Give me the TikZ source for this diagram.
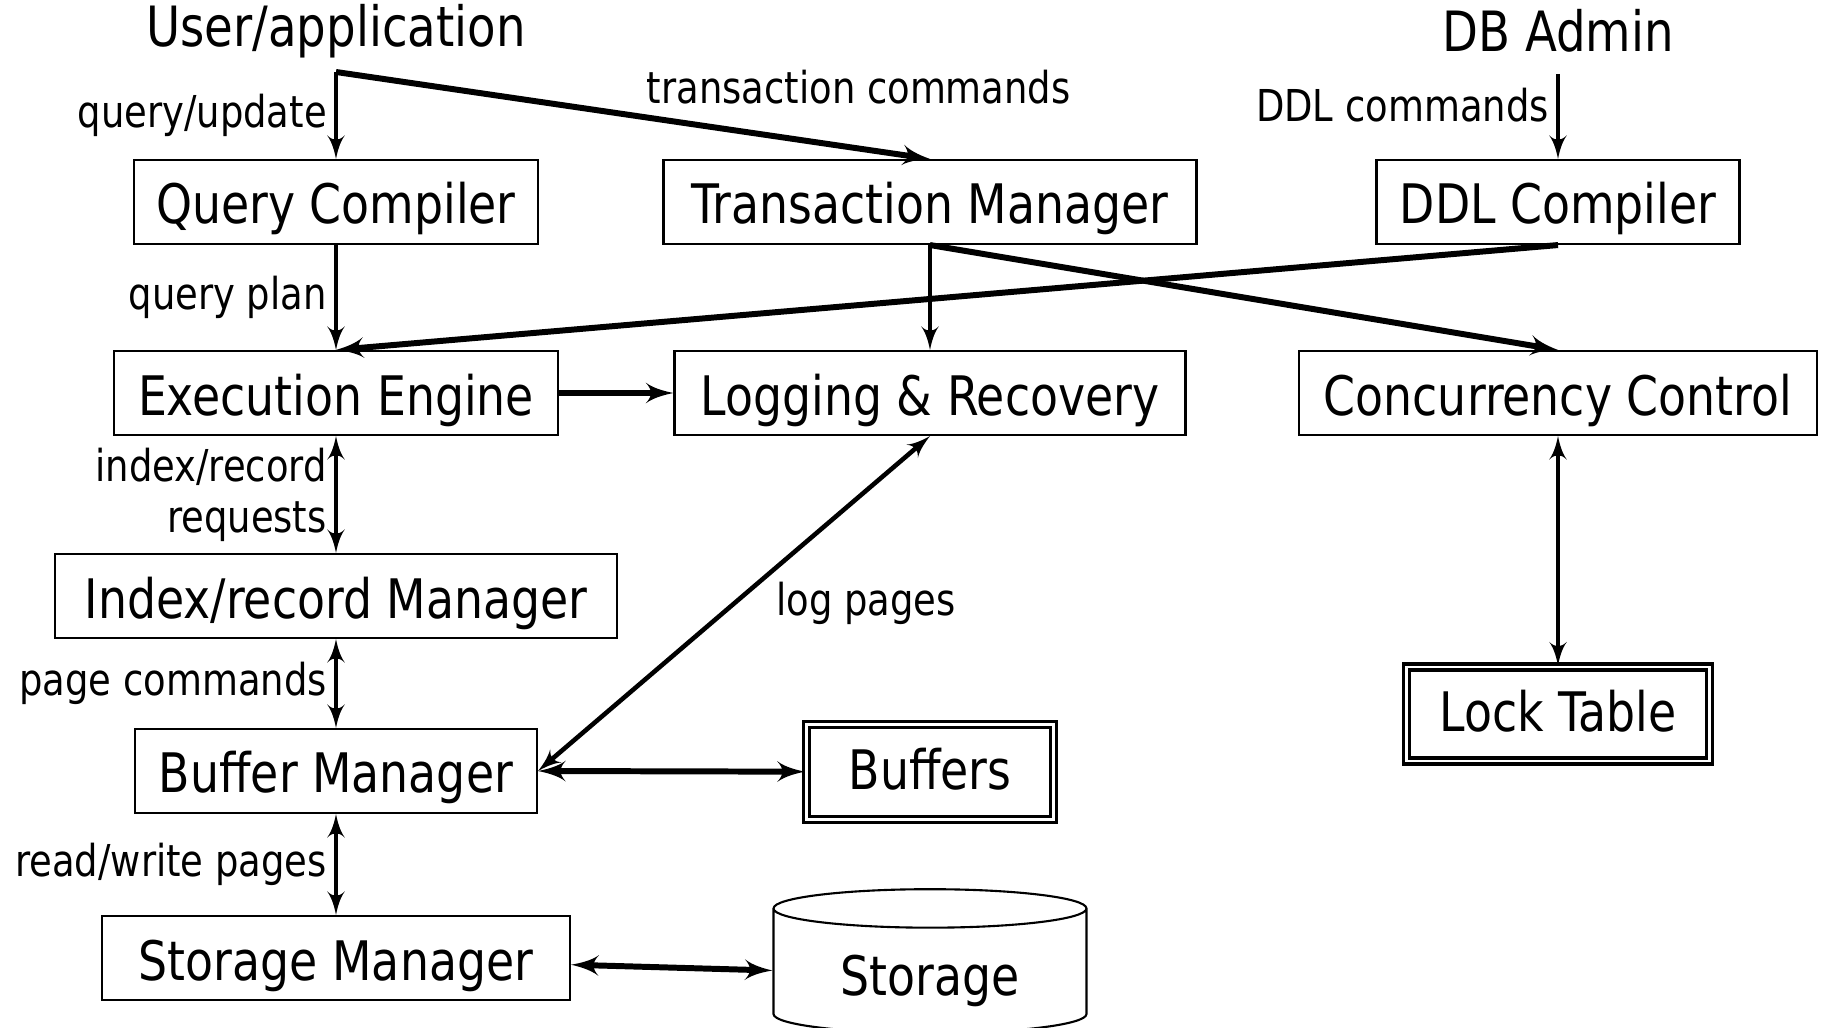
\documentclass[tikz,border=0pt]{standalone}
\usepackage{fontspec}
\setmainfont{DejaVu Sans}[FakeStretch=0.84]
\usetikzlibrary{arrows,positioning,shapes.geometric}
\newcommand*{\bigtxt}{\fontsize{15.5}{18}\selectfont}
\newcommand*{\smalltxt}{\fontsize{12.5}{14.5}\selectfont}

\begin{document}
\begin{tikzpicture}[->, >=latex', line width=1.3pt, node distance=1.91cm]
    \tikzstyle{box}=[draw, line width=0.6pt, inner xsep=0.2cm, inner ysep=0pt, minimum height=0.84cm, text height=0.52cm, text depth=0.08cm, font=\bigtxt]
    \tikzstyle{store}=[box, line width=0.9pt, double, double distance=0.8pt, text height=0.45cm, text depth=0.1cm]
    \tikzstyle{disk}=[draw, line width=0.6pt, cylinder, shape border rotate=90, aspect=0.19, minimum width=3.13cm, minimum height=1.44cm, text height=0.5cm, text depth=0.1cm, font=\bigtxt]
    \tikzstyle{actor}=[font=\fontsize{15.8}{18}\selectfont]
    \tikzstyle{lab}=[font=\smalltxt, inner sep=2pt]
    \tikzstyle{heavy}=[line width=1.7pt]
    \useasboundingbox (0,0) rectangle (18.23,-10.28);
    \node[box,minimum width=4.04cm]   (qc)   at (3.36,-2.02)                     {Query Compiler};
    \node[box,minimum width=5.33cm]   (tm)   [right of=qc, node distance=5.94cm] {Transaction Manager};
    \node[box,minimum width=3.63cm]   (ddl)  [right of=tm, node distance=6.28cm] {DDL Compiler};
    \node[box,minimum width=4.44cm]   (ee)   [below of=qc]                       {Execution Engine};
    \node[box,minimum width=5.11cm]   (lr)   [below of=tm]                       {Logging \& Recovery};
    \node[box,minimum width=5.18cm]   (cc)   [below of=ddl]                      {Concurrency Control};
    \node[box,minimum width=5.62cm]   (irm)  [below of=ee, node distance=2.03cm] {Index/record Manager};
    \node[box,minimum width=4.02cm]   (bm)   [below of=irm, node distance=1.75cm] {Buffer Manager};
    \node[box,minimum width=4.68cm]   (sm)   [below of=bm, node distance=1.87cm] {Storage Manager};
    \node[store,minimum width=2.47cm,minimum height=0.95cm] (buf)  [below of=lr, node distance=3.79cm] {Buffers};
    \node[store,minimum width=3.03cm,minimum height=0.94cm] (lock) [below of=cc, node distance=3.21cm] {Lock Table};
    \node[disk]  (stor) [below of=buf, node distance=2.03cm] {Storage};
    \node[actor] (user) [above of=qc, node distance=1.71cm] {User/application};
    \node[actor] (dba)  [above of=ddl, node distance=1.71cm] {DB Admin};
    \coordinate[below of=user, node distance=0.41cm] (uaout);
    \coordinate[below of=dba, node distance=0.43cm] (dbaout);
    \path
(uaout) edge                node[lab,left]{query/update}                     (qc)
        edge[heavy]         node[lab,pos=0.88,above=0.34cm]{transaction commands} (tm.north)
(dbaout) edge               node[lab,left,pos=0.37]{DDL commands}            (ddl)
(qc)    edge                node[lab,left]{query plan}                       (ee)
(ddl.south) edge[heavy]                                                      (ee.north)
(tm.south) edge                                                              (lr)
        edge[heavy]                                                          (cc.north)
(ee)    edge[heavy]                                                          (lr)
        edge[<->]           node[lab,left,align=right]{index/record\\requests} (irm)
(irm)   edge[<->]           node[lab,left]{page commands}                    (bm)
(bm)    edge[<->]           node[lab,left]{read/write pages}                 (sm)
(bm.east) edge[<->]         node[lab,right=0.33cm]{log pages}                (lr.south)
        edge[<->,heavy]                                                      (buf)
(sm)    edge[<->,heavy]                                                      (stor)
(cc)    edge[<->]                                                            (lock);
\end{tikzpicture}
\end{document}
